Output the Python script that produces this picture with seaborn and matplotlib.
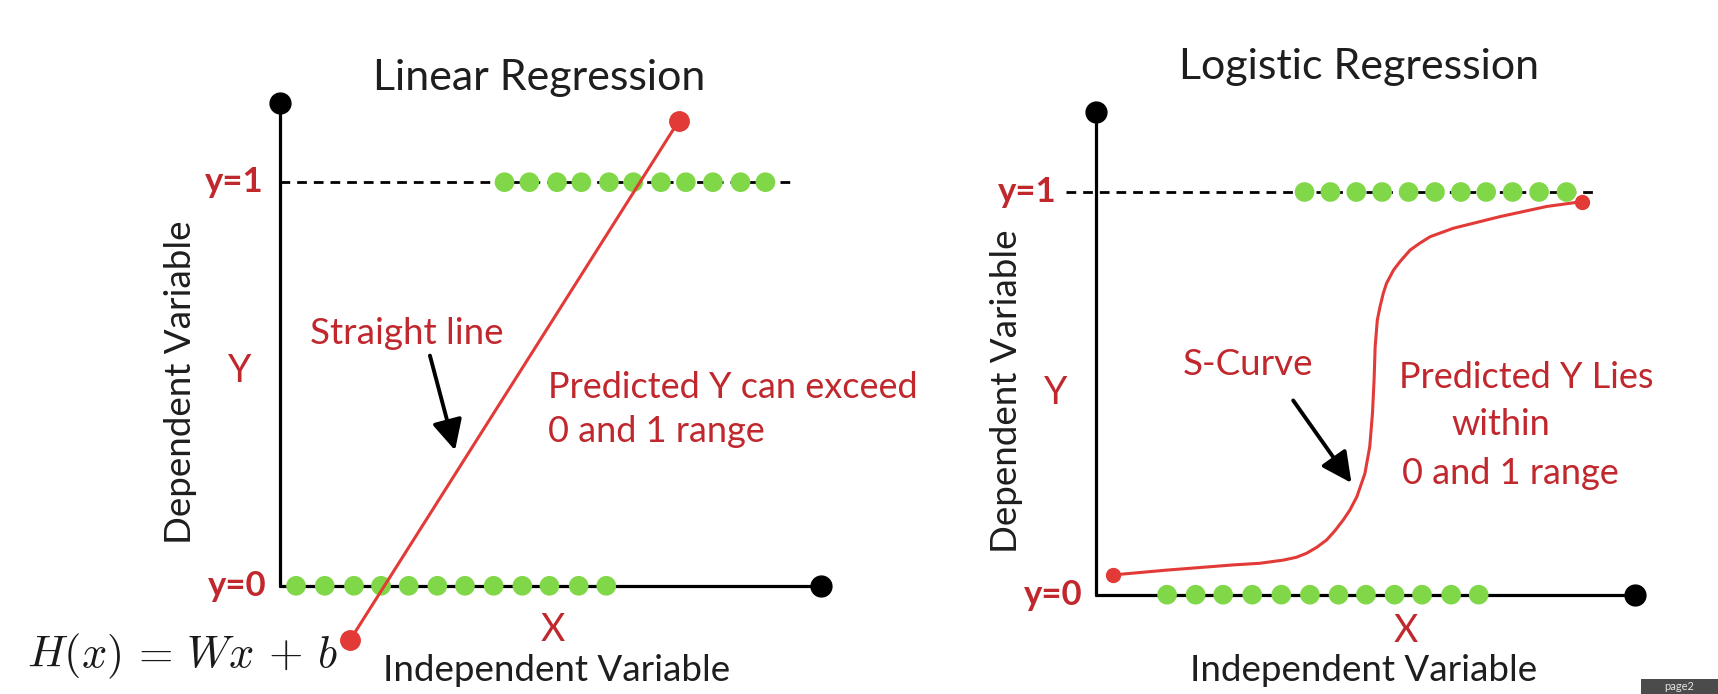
import numpy as np
import pandas as pd
import matplotlib
matplotlib.use("Agg")
import matplotlib.pyplot as plt
import seaborn as sns
from matplotlib.patches import Rectangle

sns.set_theme(style="white")
plt.rcParams["font.family"] = ["Lato", "DejaVu Sans"]
plt.rcParams["mathtext.fontset"] = "cm"

# ---- data (x in panel units, y: 0 / 1 levels) ----
lin_top_x = [4.15, 4.61, 5.12, 5.57, 6.08, 6.53, 7.04, 7.50, 8.00, 8.51, 8.97]
lin_bot_x = [0.30, 0.83, 1.37, 1.87, 2.38, 2.91, 3.42, 3.95, 4.48, 4.98, 5.52, 6.03]
lin_fit_x = [1.30, 7.37]
lin_fit_y = [-0.134, 1.152]

log_top_x = [3.87, 4.35, 4.83, 5.31, 5.80, 6.29, 6.77, 7.24, 7.73, 8.22, 8.73]
log_bot_x = [1.32, 1.85, 2.36, 2.90, 3.44, 3.97, 4.50, 5.01, 5.54, 6.05, 6.59, 7.10]
s_curve_x = [0.31, 1.31, 2.55, 3.04, 3.48, 3.72, 3.91, 4.10, 4.28, 4.435, 4.59,
             4.71, 4.84, 4.99, 5.08, 5.13, 5.16, 5.18, 5.22, 5.27, 5.33, 5.39,
             5.52, 5.64, 5.83, 6.01, 6.20, 6.63, 7.50, 8.36, 9.01]
s_curve_y = [0.049, 0.061, 0.074, 0.078, 0.086, 0.093, 0.103, 0.118, 0.136, 0.159, 0.186,
             0.210, 0.243, 0.301, 0.368, 0.450, 0.533, 0.616, 0.682, 0.715, 0.748, 0.773,
             0.806, 0.827, 0.856, 0.873, 0.889, 0.910, 0.939, 0.964, 0.976]

W, H = 1718, 694
RED_TXT = "#c0282e"
RED_LINE = "#e23a36"
GREEN = "#80d748"
DARK = "#1e1e1e"

fig = plt.figure(figsize=(W / 100, H / 100), dpi=100)
fig.patch.set_facecolor("white")


def panel(left, right, x0, xunit, y0, yunit):
    # axes laid out so that x=0 / y=0 land on given pixel positions
    ax = fig.add_axes([left / W, 0, (right - left) / W, 1])
    ax.set_xlim((left - x0) / xunit, (right - x0) / xunit)
    ax.set_ylim((y0 - H) / yunit, y0 / yunit)
    ax.axis("off")
    return ax


def frame(ax, top, dash_from, dash_to, top_x, bot_x):
    ax.plot([0, 0], [0, top], color="black", lw=2.3, zorder=2)
    ax.plot([0, 10], [0, 0], color="black", lw=2.3, zorder=2)
    ax.plot([dash_from, dash_to], [1, 1], color="black", lw=2, ls=(0, (3.5, 2.5)), zorder=2)
    ax.plot([0, 10], [top, 0], ls="none", marker="o", ms=15, color="black", zorder=3)
    sns.scatterplot(x=top_x, y=[1] * len(top_x), ax=ax, s=200, color=GREEN,
                    edgecolor="none", zorder=4, legend=False)
    sns.scatterplot(x=bot_x, y=[0] * len(bot_x), ax=ax, s=200, color=GREEN,
                    edgecolor="none", zorder=4, legend=False)


def labels(ax, title, title_xy, y1x, y0x, ylab_xy, dep_xy, xlab_xy, ind_xy):
    ax.text(*title_xy, title, ha="center", va="center", fontsize=31, color=DARK)
    ax.text(y1x, 1, "y=1", ha="right", va="center", fontsize=25, fontweight="bold", color=RED_TXT)
    ax.text(y0x, 0, "y=0", ha="right", va="center", fontsize=25, fontweight="bold", color=RED_TXT)
    ax.text(*ylab_xy, "Y", ha="center", va="center", fontsize=27, color=RED_TXT)
    ax.text(*xlab_xy, "X", ha="center", va="center", fontsize=27, color=RED_TXT)
    ax.text(*dep_xy, "Dependent Variable", rotation=90, ha="center", va="center",
            fontsize=26.5, color=DARK)
    ax.text(*ind_xy, "Independent Variable", ha="center", va="center", fontsize=26.5, color=DARK)


arrow = dict(arrowstyle="-|>", lw=2.8, color="black", mutation_scale=46)

# ---------------- Linear regression ----------------
ax1 = panel(0, 859, 279.8, 54.14, 585.8, 403.6)
frame(ax1, 1.196, 0, 9.50, lin_top_x, lin_bot_x)
fit = pd.DataFrame({"x": lin_fit_x, "y": lin_fit_y})
sns.lineplot(data=fit, x="x", y="y", ax=ax1, color=RED_LINE, lw=2.2, zorder=5)
ax1.plot(fit["x"], fit["y"], ls="none", marker="o", ms=14, color=RED_LINE, zorder=6)
labels(ax1, "Linear Regression", (4.79, 1.259), -0.31, -0.25, (-0.735, 0.532),
       (-1.84, 0.505), (5.05, -0.11), (5.12, -0.211))
ax1.text(2.35, 0.626, "Straight line", ha="center", va="center", fontsize=26.5, color=RED_TXT)
ax1.annotate("", xy=(3.25, 0.329), xytext=(2.76, 0.577), arrowprops=arrow)
ax1.text(4.96, 0.436, "Predicted Y can exceed\n0 and 1 range", ha="left", va="center",
         fontsize=26, color=RED_TXT, linespacing=1.4)
ax1.text(-4.67, -0.176, r"$H(x)\,=\,Wx\,+\,b$", ha="left", va="center", fontsize=32,
         color="#1a1a1a")

# ---------------- Logistic regression ----------------
ax2 = panel(859, 1718, 1095.9, 53.91, 594.7, 402.7)
frame(ax2, 1.199, -0.56, 9.26, log_top_x, log_bot_x)
curve = pd.DataFrame({"x": s_curve_x, "y": s_curve_y})
sns.lineplot(data=curve, x="x", y="y", ax=ax2, sort=False, color=RED_LINE, lw=2.2,
             zorder=5, solid_joinstyle="round")
ax2.plot([s_curve_x[0], s_curve_x[-1]], [s_curve_y[0], s_curve_y[-1]], ls="none",
         marker="o", ms=10, color=RED_LINE, zorder=6)
labels(ax2, "Logistic Regression", (4.88, 1.311), -0.73, -0.25, (-0.74, 0.501),
       (-1.65, 0.506), (5.75, -0.09), (4.97, -0.189))
ax2.text(2.83, 0.572, "S-Curve", ha="center", va="center", fontsize=26.5, color=RED_TXT)
ax2.annotate("", xy=(4.77, 0.272), xytext=(3.63, 0.488), arrowprops=arrow)
ax2.text(7.99, 0.539, "Predicted Y Lies", ha="center", va="center", fontsize=26, color=RED_TXT)
ax2.text(7.51, 0.423, "within", ha="center", va="center", fontsize=26, color=RED_TXT)
ax2.text(7.68, 0.301, "0 and 1 range", ha="center", va="center", fontsize=26, color=RED_TXT)

for ax in (ax1, ax2):
    for t in ax.texts:
        t.set_clip_on(False)

# small page tab in the corner
fig.patches.append(Rectangle((1641 / W, 0), 77 / W, 15 / H, transform=fig.transFigure,
                             facecolor="#4b4b4b", edgecolor="none"))
fig.text(1679 / W, 7.5 / H, "page2", ha="center", va="center", fontsize=8, color="#e6e6e6")

fig.savefig("out.png", dpi=100, facecolor="white")
